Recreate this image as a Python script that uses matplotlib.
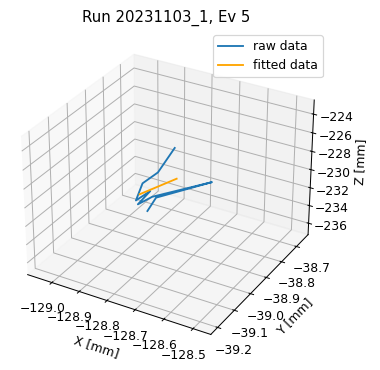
import matplotlib
matplotlib.use('Agg')
import matplotlib.pyplot as plt

# hit positions for the event
raw_x = [-128.753, -128.813, -128.869, -128.894, -128.841, -128.887, -128.834, -128.622, -128.820, -128.852]
raw_y = [-38.925, -38.925, -38.925, -38.925, -38.925, -38.925, -38.925, -38.925, -38.925, -38.925]
raw_z = [-225.62, -228.75, -230.42, -232.53, -231.02, -232.90, -231.59, -228.14, -231.56, -233.33]

# straight-line fit through the hits
fit_x = [-128.880, -128.746]
fit_y = [-38.925, -38.925]
fit_z = [-231.72, -228.85]

dpi = 89
fig = plt.figure(figsize=(380 / dpi, 370 / dpi), dpi=dpi)
ax = fig.add_axes([0.008, 0.0405, 0.858, 0.881], projection='3d')
ax.plot(raw_x, raw_y, raw_z, label='raw data')
ax.plot(fit_x, fit_y, fit_z, color='orange', label='fitted data')

ax.set_xlim(-129.09, -128.44)
ax.set_ylim(-39.24, -38.62)
ax.set_zlim(-237.3, -222.5)

ax.set_xlabel('X [mm]')
ax.set_ylabel('Y [mm]')
ax.set_zlabel('Z [mm]')
ax.set_title('Run 20231103_1, Ev 5')
ax.legend()

plt.savefig('out.png', dpi=dpi)
